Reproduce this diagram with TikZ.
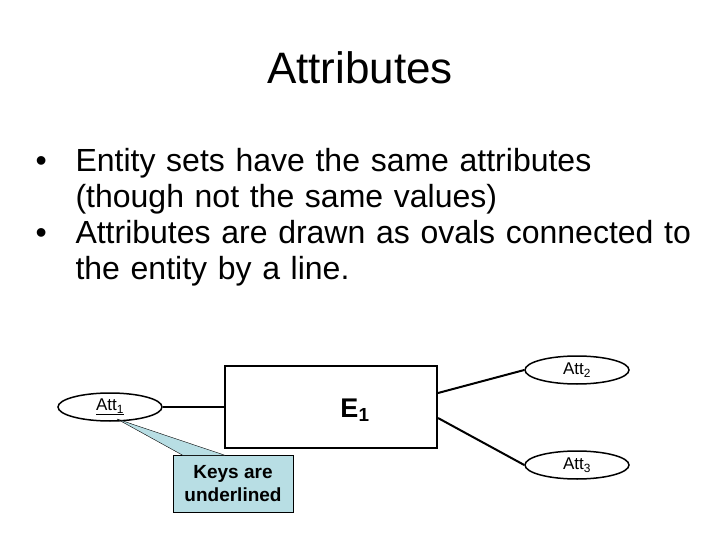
\documentclass[tikz,border=0pt]{standalone}
\usepackage{fontspec}
\setmainfont{Liberation Sans}
\usetikzlibrary{shapes.geometric}
\definecolor{callout}{RGB}{184,222,228}
\begin{document}
\begin{tikzpicture}[x=1pt,y=-1pt,
  att/.style={draw,line width=1.5pt,ellipse,minimum width=104pt,minimum height=28pt,inner sep=0pt,font=\fontsize{17}{19}\selectfont},
  conn/.style={line width=2pt}]
\useasboundingbox (0,0) rectangle (720,540);
\node (title) at (360,68) {\fontsize{44}{50}\selectfont Attributes};
\node[anchor=north west,align=left,text width=700pt,font=\fontsize{32}{36}\selectfont] (bullets) at (22,145)
 {\makebox[50pt][l]{\hspace{10pt}•}Entity sets have the same attributes\\
  \hspace*{50pt}(though not the same values)\\
  \makebox[50pt][l]{\hspace{10pt}•}Attributes are drawn as ovals connected to\\
  \hspace*{50pt}the entity by a line.};
\node[draw,line width=2pt,minimum width=212pt,minimum height=82pt] (e1) at (331,407) {};
\node[font=\fontsize{27}{30}\selectfont\bfseries] (e1t) at (355,410) {E\textsubscript{1}};
\node[att] (a1) at (110,407) {\underline{Att\textsubscript{1}}};
\node[att] (a2) at (577,370) {Att\textsubscript{2}};
\node[att] (a3) at (577,465) {Att\textsubscript{3}};
\draw[conn] (a1) -- (e1.west|-a1);
\draw[conn] (e1.east|-0,393) -- (a2.west);
\draw[conn] (e1.east|-0,418) -- (a3.west);
\node[draw,fill=callout,minimum width=120pt,minimum height=57pt,align=center,font=\fontsize{19}{23}\selectfont\bfseries] (keys) at (233,484) {Keys are\\underlined};
\coordinate (tip) at (117,419);
\filldraw[fill=callout] (tip) -- ([xshift=10pt]keys.north west) -- ([xshift=-8pt]keys.north) -- cycle;
\end{tikzpicture}
\end{document}
